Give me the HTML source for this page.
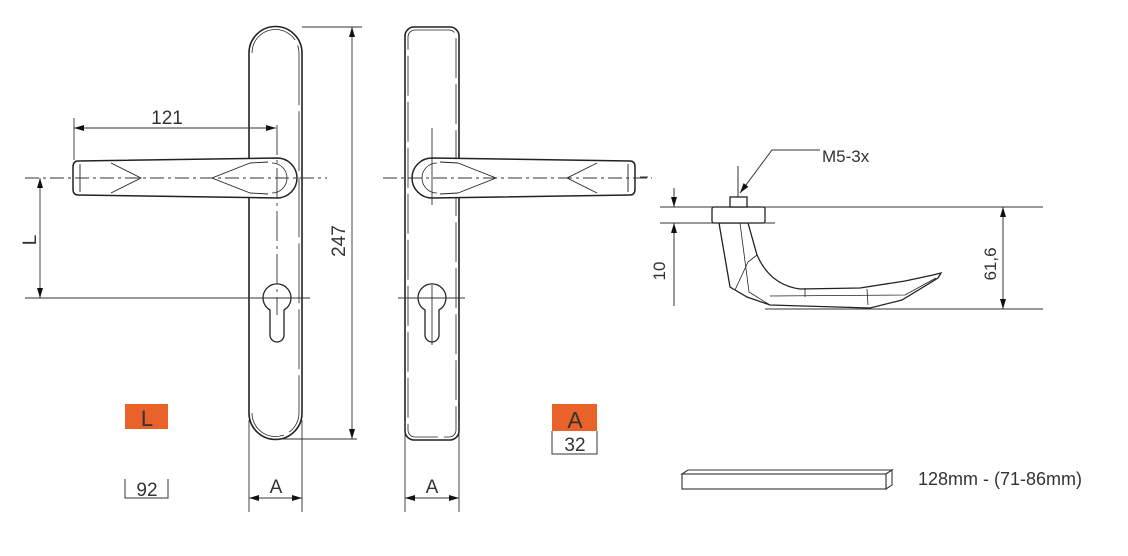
<!DOCTYPE html>
<html><head><meta charset="utf-8"><style>
html,body{margin:0;padding:0;background:#fff;}
svg{display:block;}
text{font-family:"Liberation Sans",sans-serif;fill:#333;}
</style></head><body>
<svg width="1128" height="556" viewBox="0 0 1128 556" xmlns="http://www.w3.org/2000/svg">
<defs>
<marker id="a" viewBox="0 0 10 6" refX="10" refY="3" markerWidth="12" markerHeight="6" markerUnits="userSpaceOnUse" orient="auto-start-reverse"><path d="M0,0 L10,3 L0,6z" fill="#111"/></marker>
</defs>
<g fill="none" stroke="#222" stroke-width="1.3">
<path d="M249,53 A26.5,26.5 0 0 1 302,53 L302,413 A26.5,26.5 0 0 1 249,413 Z" stroke-width="1.6"/>
<path d="M252,53 A23.5,23.5 0 0 1 299,53 L299,413 A23.5,23.5 0 0 1 252,413" stroke-width="0.8" stroke-dasharray="60 6"/>
<rect x="405" y="27" width="54" height="413" rx="9" stroke-width="1.6"/>
<rect x="408" y="30" width="48" height="407" rx="7" stroke-width="0.8" stroke-dasharray="40 6"/>
<path d="M277,158 A20,20 0 0 1 277,198 L78,195 Q73,195 73,189 L73,167 Q73,161 78,161 Z" fill="#fff" stroke-width="1.5"/>
<path d="M80,164 L80,192 M111,163 L141,178 L111,193 M250,163 L212,178 L250,193 M250,163 L268,162 M250,193 L268,194" stroke-width="0.9"/>
<path d="M272,163 A15,15 0 0 1 272,193" stroke-width="0.8"/>
<path d="M432,158 A20,20 0 0 0 432,198 L630,195 Q635,195 635,189 L635,167 Q635,161 630,161 Z" fill="#fff" stroke-width="1.5"/>
<path d="M628,164 L628,192 M597,163 L567,178 L597,193 M458,163 L496,178 L458,193 M458,163 L440,162 M458,193 L440,194" stroke-width="0.9"/>
<path d="M437,163 A15,15 0 0 0 437,193" stroke-width="0.8"/>
<path d="M270,310 A14,14 0 1 1 284,310 L284,335 A7,7 0 0 1 270,335 Z" fill="#fff"/>
<path d="M425,310 A14,14 0 1 1 439,310 L439,335 A7,7 0 0 1 425,335 Z" fill="#fff"/>
</g>
<g stroke="#333" stroke-width="0.9" fill="none">
<path d="M25,178 L327,178" stroke-dasharray="14 4 3 4"/>
<path d="M383,178 L652,178" stroke-dasharray="14 4 3 4"/>
<path d="M277,125 L277,315" stroke-dasharray="30 5 3 5"/>
<path d="M432,128 L432,205"/>
<path d="M25,298 L310,298"/>
<path d="M398,298 L465,298"/>
<path d="M432,285 L432,345"/>
<path d="M74,118 L74,160"/>
<path d="M74,128 L276,128" marker-start="url(#a)" marker-end="url(#a)"/>
<path d="M40,178 L40,298" marker-start="url(#a)" marker-end="url(#a)"/>
<path d="M302,27 L362,27 M275,439 L357,439"/>
<path d="M352,27 L352,439" marker-start="url(#a)" marker-end="url(#a)"/>
<path d="M249,420 L249,512 M302,420 L302,512 M405,420 L405,512 M459,420 L459,512"/>
<path d="M249,498 L302,498" marker-start="url(#a)" marker-end="url(#a)"/>
<path d="M405,498 L459,498" marker-start="url(#a)" marker-end="url(#a)"/>
</g>
<text x="167" y="124" font-size="19" text-anchor="middle">121</text>
<text x="36" y="240" font-size="19" text-anchor="middle" transform="rotate(-90 36 240)">L</text>
<text x="345" y="241" font-size="19" text-anchor="middle" transform="rotate(-90 345 241)">247</text>
<text x="276" y="493" font-size="19" text-anchor="middle">A</text>
<text x="432" y="493" font-size="19" text-anchor="middle">A</text>
<rect x="125" y="404" width="43" height="25" fill="#E8622A"/>
<text x="147" y="426" font-size="22" text-anchor="middle" fill="#222">L</text>
<path d="M125,479 L125,498 L168,498 L168,479" stroke="#333" fill="none"/>
<text x="147" y="496" font-size="19" text-anchor="middle">92</text>
<rect x="552" y="404" width="45" height="27" fill="#E8622A"/>
<text x="575" y="428" font-size="23" text-anchor="middle" fill="#222">A</text>
<path d="M552,431 L552,454 L597,454 L597,431" stroke="#333" fill="none"/>
<text x="575" y="451" font-size="19" text-anchor="middle">32</text>
<g stroke="#333" stroke-width="1" fill="none">
<path d="M660,207 L1043,207 M660,223 L775,223 M765,309 L1043,309"/>
<path d="M674,188 L674,207" marker-end="url(#a)"/>
<path d="M674,306 L674,223" marker-end="url(#a)"/>
<path d="M1003,207 L1003,309" marker-start="url(#a)" marker-end="url(#a)"/>
<path d="M738,166 L738,248"/>
<path d="M820,150 L772,150 L740,193" marker-end="url(#a)"/>
<path d="M640,177 L648,177"/>
</g>
<g stroke="#222" stroke-width="1.3" fill="#fff">
<path d="M719,223 L730,287 L747,297 L770,305 L870,308 L902,300 L938,278 L941,273 L933,275 L905,281 L860,288 L800,289 Q770,285 757,255 L748,223 Z"/>
<path d="M740,223 L749,292 M749,292 L770,305 M757,255 L748,262 L735,290 M867,289 L868,305 M805,288 L805,297 M770,296 L905,295 L936,278" stroke-width="0.8" fill="none"/>
<rect x="712" y="207" width="53" height="16" rx="2"/>
<rect x="730" y="197" width="17" height="10"/>
</g>
<text x="822" y="162" font-size="17">M5-3x</text>
<text x="665" y="271" font-size="17" text-anchor="middle" transform="rotate(-90 665 271)">10</text>
<text x="996" y="264" font-size="17" text-anchor="middle" transform="rotate(-90 996 264)">61,6</text>
<g stroke="#333" stroke-width="1.1" fill="#fff">
<path d="M682,474 L688,470 L892,470 L886,474 Z"/>
<path d="M886,474 L892,470 L892,485 L886,489 Z"/>
<rect x="682" y="474" width="204" height="15"/>
</g>
<text x="918" y="485" font-size="18">128mm - (71-86mm)</text>
</svg>
</body></html>
